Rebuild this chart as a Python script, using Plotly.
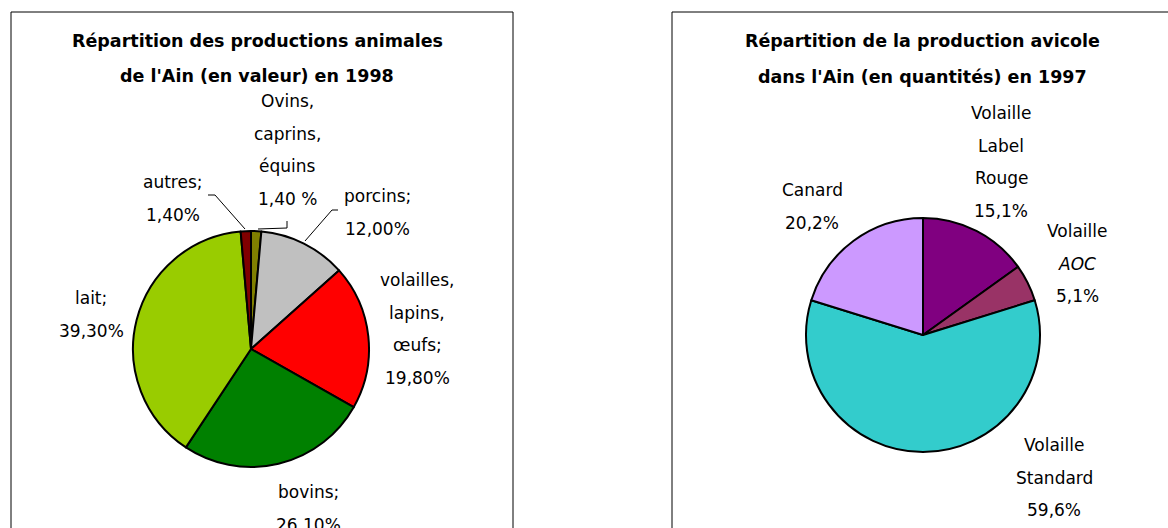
import plotly.graph_objects as go

W, H = 1168, 528

# --- Répartition des productions animales (valeur, 1998) ---
animal_names = ["Ovins, caprins, équins", "porcins", "volailles, lapins, œufs",
                "bovins", "lait", "autres"]
animal_values = [1.4, 12.0, 19.8, 26.1, 39.3, 1.4]
animal_colors = ["#808000", "#C0C0C0", "#FF0000", "#008000", "#99CC00", "#800000"]
animal_label_lines = [["Ovins,", "caprins,", "équins"], ["porcins;"],
                      ["volailles,", "lapins,", "œufs;"], ["bovins;"], ["lait;"], ["autres;"]]
animal_pct_sep = [" ", "", "", "", "", ""]

# --- Répartition de la production avicole (quantités, 1997) ---
poultry_names = ["Volaille Label Rouge", "Volaille AOC", "Volaille Standard", "Canard"]
poultry_values = [15.1, 5.1, 59.6, 20.2]
poultry_colors = ["#800080", "#993366", "#33CCCC", "#CC99FF"]
poultry_label_lines = [["Volaille", "Label", "Rouge"], ["Volaille", "AOC"],
                       ["Volaille", "Standard"], ["Canard"]]

FONT = "DejaVu Sans"
LINE_GAP = 32.5
LABEL_SIZE = 17
TITLE_SIZE = 17.5


def px(x, y):
    """Pixel position -> paper coordinates."""
    return x / W, 1 - y / H


def fmt_pct(v, decimals, sep=""):
    return f"{v:.{decimals}f}".replace(".", ",") + sep + "%"


fig = go.Figure()

# Panel frames
for x0, y0, x1, y1 in [(11, 12, 513, 560), (672, 12, 1200, 560)]:
    a0, b0 = px(x0, y0)
    a1, b1 = px(x1, y1)
    fig.add_shape(type="rect", xref="paper", yref="paper", x0=a0, y0=b1, x1=a1, y1=b0,
                  line=dict(color="black", width=1), fillcolor="rgba(0,0,0,0)", layer="below")


def pie_domain(cx, cy, r):
    x0, y1 = px(cx - r, cy - r)
    x1, y0 = px(cx + r, cy + r)
    return dict(x=[x0, x1], y=[y0, y1])


fig.add_trace(go.Pie(
    labels=animal_names, values=animal_values, sort=False, direction="clockwise",
    rotation=0, textinfo="none", hoverinfo="label+percent", showlegend=False,
    marker=dict(colors=animal_colors, line=dict(color="black", width=2)),
    domain=pie_domain(251, 349, 118),
))
fig.add_trace(go.Pie(
    labels=poultry_names, values=poultry_values, sort=False, direction="clockwise",
    rotation=0, textinfo="none", hoverinfo="label+percent", showlegend=False,
    marker=dict(colors=poultry_colors, line=dict(color="black", width=2)),
    domain=pie_domain(923, 335, 117),
))

annotations = []


def add_text(x, y, text, size=LABEL_SIZE, bold=False, italic=False):
    ax, ay = px(x, y)
    if bold:
        text = f"<b>{text}</b>"
    if italic:
        text = f"<i>{text}</i>"
    annotations.append(dict(x=ax, y=ay, xref="paper", yref="paper", text=text,
                            showarrow=False, xanchor="center", yanchor="middle",
                            font=dict(family=FONT, size=size, color="black")))


# Titles
add_text(257, 41, "Répartition des productions animales", size=TITLE_SIZE, bold=True)
add_text(257, 76, "de l'Ain (en valeur) en 1998", size=TITLE_SIZE, bold=True)
add_text(922, 41, "Répartition de la production avicole", size=TITLE_SIZE, bold=True)
add_text(922, 77, "dans l'Ain (en quantités) en 1997", size=TITLE_SIZE, bold=True)

# Slice label anchors: (center x, y of first line)
animal_label_pos = [(287, 101), (377, 196), (417, 280), (309, 492), (91, 298), (173, 182)]
for lines, v, sep, (x, y) in zip(animal_label_lines, animal_values, animal_pct_sep,
                                 animal_label_pos):
    rows = lines + [fmt_pct(v, 2, sep)]
    for i, row in enumerate(rows):
        add_text(x, y + i * LINE_GAP, row)

poultry_label_pos = [(1001, 113), (1077, 231), (1054, 445), (812, 190)]
poultry_italic = [[False] * 4, [False, True, False], [False] * 3, [False] * 2]
for lines, v, (x, y), it in zip(poultry_label_lines, poultry_values, poultry_label_pos,
                                poultry_italic):
    rows = lines + [fmt_pct(v, 1)]
    for i, row in enumerate(rows):
        add_text(x, y + i * LINE_GAP, row, italic=it[i])

# Leader lines for the small slices and porcins
leaders = [
    [(208, 195), (215, 195), (245, 229)],   # autres
    [(287, 221), (287, 228), (258, 229)],   # ovins, caprins, équins
    [(338, 210), (332, 210), (305, 241)],   # porcins
]
for pts in leaders:
    path = ""
    for k, (x, y) in enumerate(pts):
        a, b = px(x, y)
        path += ("M" if k == 0 else " L") + f" {a} {b}"
    fig.add_shape(type="path", xref="paper", yref="paper", path=path,
                  line=dict(color="black", width=1))

fig.update_layout(
    width=W, height=H, margin=dict(l=0, r=0, t=0, b=0),
    paper_bgcolor="white", plot_bgcolor="white",
    annotations=annotations,
    font=dict(family=FONT),
)

fig.write_html("out.html", config={"displayModeBar": False})
